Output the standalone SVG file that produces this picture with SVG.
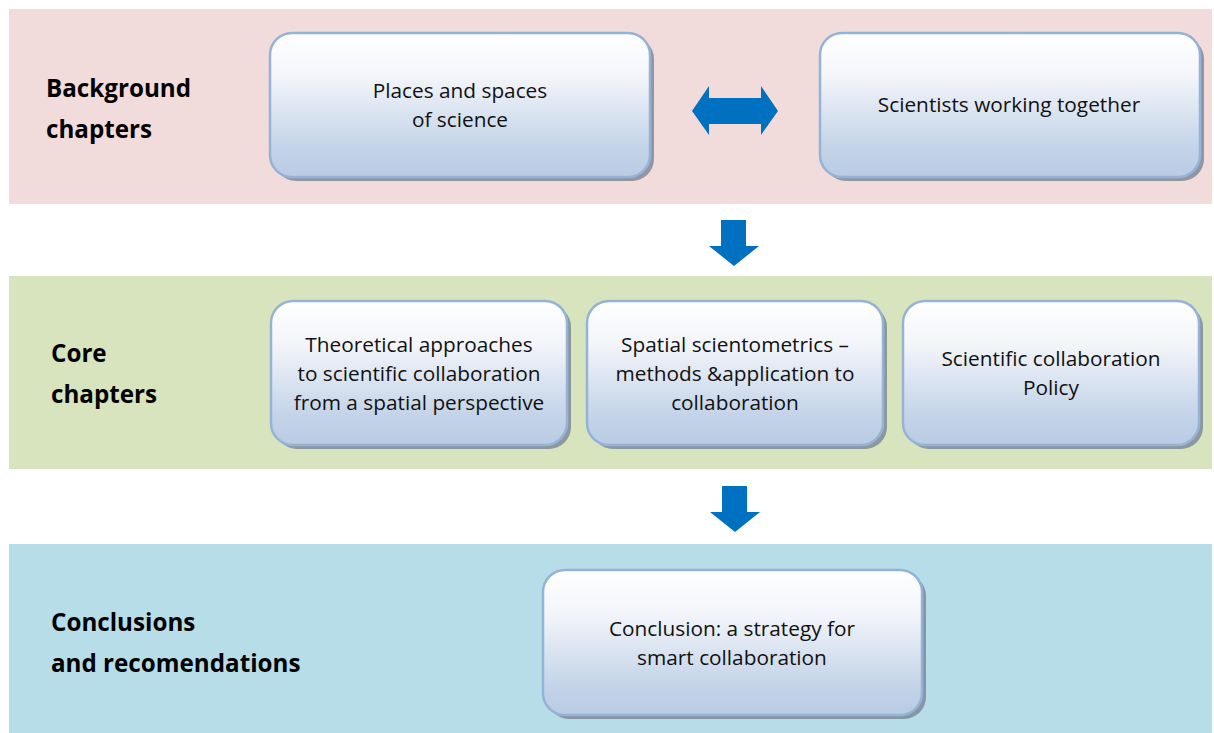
<svg xmlns="http://www.w3.org/2000/svg" width="1214" height="733" viewBox="0 0 1214 733">
  <style>
    .box { fill: url(#boxFill); stroke: #95b3d7; stroke-width: 2.5; }
    .shadow { fill: #7f8a99; opacity: 0.85; }
    .txt { font-family: "Open Sans", "Liberation Sans", sans-serif; font-size: 20.8px; fill: #111; text-anchor: middle; }
    .lbl { font-family: "Open Sans", "Liberation Sans", sans-serif; font-size: 24.2px; font-weight: bold; fill: #000; }
    .arrow { fill: #0070c0; }
  </style>
  <defs>
    <linearGradient id="boxFill" x1="0" y1="0" x2="0" y2="1">
      <stop offset="0" stop-color="#ffffff"/>
      <stop offset="0.3" stop-color="#f3f5fa"/>
      <stop offset="0.8" stop-color="#c3d3e8"/>
      <stop offset="1" stop-color="#b9cce4"/>
    </linearGradient>
  </defs>

  <rect width="1214" height="733" fill="#ffffff"/>

  <!-- section bands -->
  <g id="bands">
    <rect x="9" y="9" width="1203" height="195" fill="#f2dcdb"/>
    <rect x="9" y="276" width="1203" height="193" fill="#d7e4bd"/>
    <rect x="9" y="544" width="1203" height="189" fill="#b7dde8"/>
  </g>

  <!-- section labels -->
  <g id="labels">
    <text class="lbl" x="46" y="97">Background</text>
    <text class="lbl" x="46" y="138">chapters</text>
    <text class="lbl" x="51" y="362">Core</text>
    <text class="lbl" x="51" y="403">chapters</text>
    <text class="lbl" x="51" y="631">Conclusions</text>
    <text class="lbl" x="51" y="672">and recomendations</text>
  </g>

  <g id="node-places">
    <rect class="shadow" x="274" y="37" width="380" height="144" rx="22"/>
    <rect class="box" x="270" y="33" width="380" height="144" rx="22"/>
    <text class="txt" x="460" y="98">Places and spaces</text>
    <text class="txt" x="460" y="127">of science</text>
  </g>

  <g id="node-scientists">
    <rect class="shadow" x="824" y="37" width="380" height="144" rx="22"/>
    <rect class="box" x="820" y="33" width="380" height="144" rx="22"/>
    <text class="txt" x="1009" y="112">Scientists working together</text>
  </g>

  <g id="node-theory">
    <rect class="shadow" x="275" y="305" width="296" height="144" rx="22"/>
    <rect class="box" x="271" y="301" width="296" height="144" rx="22"/>
    <text class="txt" x="419" y="352">Theoretical approaches</text>
    <text class="txt" x="419" y="381">to scientific collaboration</text>
    <text class="txt" x="419" y="410">from a spatial perspective</text>
  </g>

  <g id="node-methods">
    <rect class="shadow" x="591" y="305" width="296" height="144" rx="22"/>
    <rect class="box" x="587" y="301" width="296" height="144" rx="22"/>
    <text class="txt" x="735" y="352">Spatial scientometrics –</text>
    <text class="txt" x="735" y="381">methods &amp;application to</text>
    <text class="txt" x="735" y="410">collaboration</text>
  </g>

  <g id="node-policy">
    <rect class="shadow" x="907" y="305" width="296" height="144" rx="22"/>
    <rect class="box" x="903" y="301" width="296" height="144" rx="22"/>
    <text class="txt" x="1051" y="366">Scientific collaboration</text>
    <text class="txt" x="1051" y="395">Policy</text>
  </g>

  <g id="node-conclusion">
    <rect class="shadow" x="547" y="574" width="379" height="145" rx="22"/>
    <rect class="box" x="543" y="570" width="379" height="145" rx="22"/>
    <text class="txt" x="732" y="636">Conclusion: a strategy for</text>
    <text class="txt" x="732" y="665">smart collaboration</text>
  </g>

  <!-- connectors -->
  <g id="connectors">
    <polygon class="arrow" points="692,111 709,86 709,98 761,98 761,86 778,111 761,135 761,124 709,124 709,135"/>
    <polygon class="arrow" points="721,220 746,220 746,246 759,246 734,266 709,246 721,246"/>
    <polygon class="arrow" points="722,486 747,486 747,512 760,512 735,532 710,512 722,512"/>
  </g>
</svg>
